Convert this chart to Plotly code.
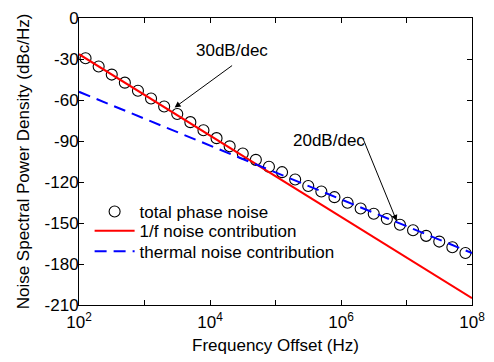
import plotly.graph_objects as go

# Offset frequencies (log10 Hz) of the sampled total phase noise points
log_f_total = [2.1, 2.3, 2.5, 2.7, 2.9, 3.1, 3.3, 3.5, 3.7, 3.9,
               4.1, 4.3, 4.5, 4.7, 4.9, 5.1, 5.3, 5.5, 5.7, 5.9,
               6.1, 6.3, 6.5, 6.7, 6.9, 7.1, 7.3, 7.5, 7.7, 7.9]
total_noise = [-29.4, -35.5, -41.4, -47.3, -53.2, -58.9, -64.8, -70.2, -76.2, -82.1,
               -87.9, -93.9, -99.1, -103.8, -108.8, -112.8, -118.2, -122.9, -127.0, -131.1,
               -135.2, -139.4, -143.2, -147.1, -151.3, -155.3, -159.4, -163.6, -167.7, -171.9]

# Straight-line noise contributions (endpoints at 100 Hz and 100 MHz)
f_line = [1e2, 1e8]
flicker_noise = [-26.5, -205.0]
thermal_noise = [-54.0, -172.0]

f_total = [10 ** v for v in log_f_total]

y_ticks = [0, -30, -60, -90, -120, -150, -180, -210]
x_ticks = [1e2, 1e3, 1e4, 1e5, 1e6, 1e7, 1e8]
x_tick_text = ["10<sup>2</sup>", "", "10<sup>4</sup>", "", "10<sup>6</sup>", "", "10<sup>8</sup>"]

FONT = "Liberation Sans, Arial, sans-serif"
FS = 17

fig = go.Figure()
fig.add_trace(go.Scatter(
    x=f_total, y=total_noise, mode="markers", name="total phase noise", legend="legend",
    marker=dict(symbol="circle-open", size=11, color="black", line=dict(width=1.1, color="black")),
))
fig.add_trace(go.Scatter(
    x=f_line, y=flicker_noise, mode="lines", name="1/f noise contribution", legend="legend2",
    line=dict(color="#ff0000", width=2),
))
fig.add_trace(go.Scatter(
    x=f_line, y=thermal_noise, mode="lines", name="thermal noise contribution", legend="legend3",
    line=dict(color="#0000ff", width=2, dash="12px,7px"),
))

annotations = [
    dict(x=4.33, y=-23.5, xref="x", yref="y", text="30dB/dec", showarrow=False,
         font=dict(size=FS, color="black", family=FONT)),
    dict(x=3.46, y=-65.5, ax=4.36, ay=-34.0, xref="x", yref="y", axref="x", ayref="y",
         text="", showarrow=True, arrowhead=2, arrowsize=1.2, arrowwidth=1, arrowcolor="black",
         standoff=0, startstandoff=0),
    dict(x=5.82, y=-89.5, xref="x", yref="y", text="20dB/dec", showarrow=False,
         font=dict(size=FS, color="black", family=FONT)),
    dict(x=6.85, y=-148.5, ax=6.33, ay=-87.5, xref="x", yref="y", axref="x", ayref="y",
         text="", showarrow=True, arrowhead=2, arrowsize=1.2, arrowwidth=1, arrowcolor="black",
         standoff=0, startstandoff=0),
]

# one legend per entry so the rows sit closer together
def legend_at(y):
    return dict(x=0.027, y=y, xanchor="left", yanchor="middle",
                bgcolor="rgba(0,0,0,0)", font=dict(size=FS, family=FONT),
                itemwidth=40)

fig.update_layout(
    width=494, height=362,
    margin=dict(l=79, r=21, t=9, b=57),
    paper_bgcolor="white", plot_bgcolor="white",
    font=dict(family=FONT, size=FS, color="black"),
    showlegend=True,
    legend=legend_at(0.3243),
    legend2=legend_at(0.2568),
    legend3=legend_at(0.1858),
    annotations=annotations,
)
fig.update_xaxes(
    type="log", range=[2, 8],
    tickvals=x_ticks, ticktext=x_tick_text,
    ticks="inside", ticklen=5, tickwidth=1, tickcolor="black",
    showline=True, linecolor="black", linewidth=1, mirror="ticks",
    showgrid=False, zeroline=False,
    tickfont=dict(size=FS, family=FONT), ticklabelstandoff=2,
    title=dict(text="Frequency Offset (Hz)", font=dict(size=FS, family=FONT), standoff=7),
)
fig.update_yaxes(
    range=[-210, 0],
    tickvals=y_ticks, ticktext=[str(v) for v in y_ticks],
    ticks="inside", ticklen=5, tickwidth=1, tickcolor="black",
    showline=True, linecolor="black", linewidth=1, mirror="ticks",
    showgrid=False, zeroline=False,
    tickfont=dict(size=FS, family=FONT), ticklabelstandoff=-4, ticklabeloverflow="allow",
    title=dict(text="Noise Spectral Power Density (dBc/Hz)", font=dict(size=FS, family=FONT), standoff=10),
)

fig.write_html("out.html")
